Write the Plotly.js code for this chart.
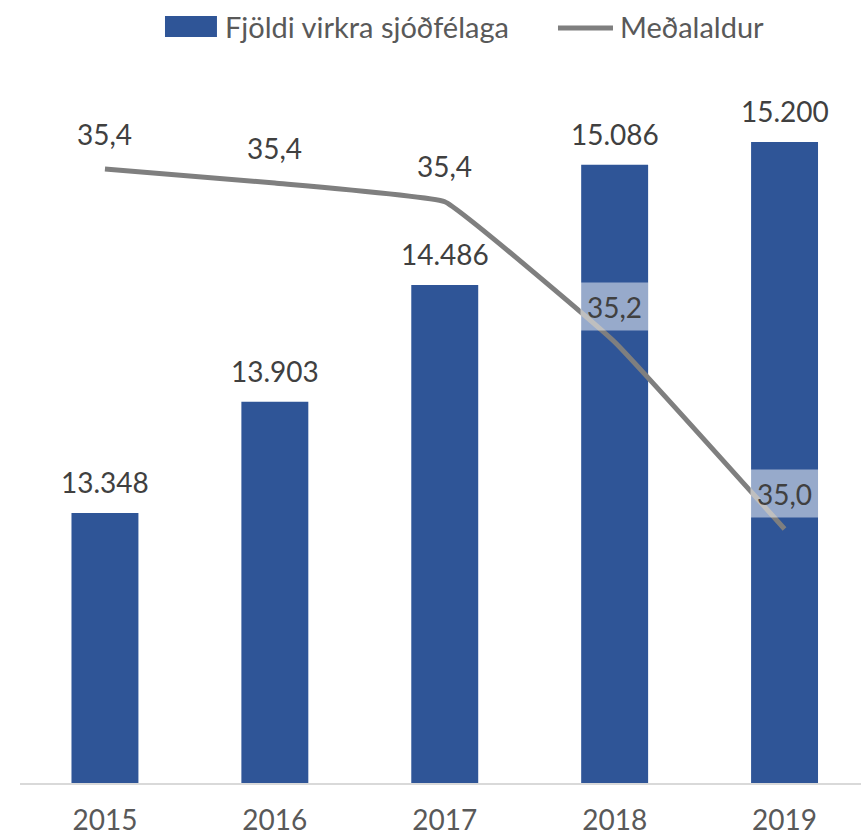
<!DOCTYPE html>
<html>
<head>
<meta charset="utf-8">
<script src="https://cdn.plot.ly/plotly-3.0.1.min.js"></script>
<style>html,body{margin:0;padding:0;background:#fff;}#chart{width:861px;height:838px;}</style>
</head>
<body>
<div id="chart"></div>
<script>
const years = ['2015', '2016', '2017', '2018', '2019'];
const members = [13348, 13903, 14486, 15086, 15200];
const avgAge = [35.385, 35.37, 35.35, 35.2, 35.0];
const seriesNames = ['Fjöldi virkra sjóðfélaga', 'Meðalaldur'];

const fmtInt = v => String(v).replace(/\B(?=(\d{3})+(?!\d))/g, '.');
const fmtDec = v => v.toFixed(1).replace('.', ',');

const FONT = 'Lato, "Open Sans", sans-serif';
const BLUE = '#2F5597';
const GREY = '#7F7F7F';

const bar = {
  type: 'bar', x: years, y: members, name: seriesNames[0],
  marker: {color: BLUE}, hoverinfo: 'skip', showlegend: false
};
const line = {
  type: 'scatter', mode: 'lines', x: years, y: avgAge, yaxis: 'y2', name: seriesNames[1],
  line: {color: GREY, width: 5, shape: 'spline', smoothing: 0.25},
  hoverinfo: 'skip', showlegend: false, cliponaxis: false
};

const annotations = [];
years.forEach((yr, i) => {
  annotations.push({
    x: i, y: members[i], xref: 'x', yref: 'y', text: fmtInt(members[i]),
    showarrow: false, yanchor: 'bottom', yshift: 12,
    font: {family: FONT, size: 28, color: '#404040'}
  });
  annotations.push({
    x: i, y: avgAge[i], xref: 'x', yref: 'y2', text: fmtDec(avgAge[i]),
    showarrow: false, yanchor: 'middle', yshift: 36,
    width: 65, height: 45, borderpad: 1,
    bgcolor: 'rgba(255,255,255,0.5)',
    font: {family: FONT, size: 28, color: '#404040'}
  });
});
// custom legend
annotations.push({
  x: 0.2414, y: 1.047, xref: 'paper', yref: 'paper', text: seriesNames[0],
  showarrow: false, xanchor: 'left', yanchor: 'middle',
  font: {family: FONT, size: 29, color: '#595959'}
});
annotations.push({
  x: 0.711, y: 1.047, xref: 'paper', yref: 'paper', text: seriesNames[1],
  showarrow: false, xanchor: 'left', yanchor: 'middle',
  font: {family: FONT, size: 29, color: '#595959'}
});
const shapes = [
  {type: 'rect', xref: 'paper', yref: 'paper', x0: 0.1724, x1: 0.2342, y0: 1.0318, y1: 1.0609,
   fillcolor: BLUE, line: {width: 0}},
  {type: 'line', xref: 'paper', yref: 'paper', x0: 0.6397, x1: 0.7051, y0: 1.0443, y1: 1.0443,
   line: {color: GREY, width: 5}}
];

const pxPerUnit1 = 0.2003;
const pxPerUnit2 = 935;
const plotH = 838 - 60 - 55;

const layout = {
  width: 861, height: 838,
  margin: {l: 20, r: 0, t: 60, b: 55},
  paper_bgcolor: '#fff', plot_bgcolor: '#fff',
  showlegend: false,
  bargap: 0.606,
  xaxis: {
    type: 'category', range: [-0.5, 4.45],
    showline: true, linecolor: '#D9D9D9', linewidth: 2,
    ticks: '', showgrid: false, zeroline: false,
    tickfont: {family: FONT, size: 28, color: '#595959'},
    ticklabelstandoff: 11
  },
  yaxis: {
    range: [12000, 12000 + plotH / pxPerUnit1],
    visible: false, showgrid: false, zeroline: false, fixedrange: true
  },
  yaxis2: {
    overlaying: 'y', side: 'right',
    range: [35.0 - 254 / pxPerUnit2, 35.0 - 254 / pxPerUnit2 + plotH / pxPerUnit2],
    visible: false, showgrid: false, zeroline: false
  },
  annotations: annotations,
  shapes: shapes
};

Plotly.newPlot('chart', [bar, line], layout, {staticPlot: true, displayModeBar: false});
</script>
</body>
</html>
